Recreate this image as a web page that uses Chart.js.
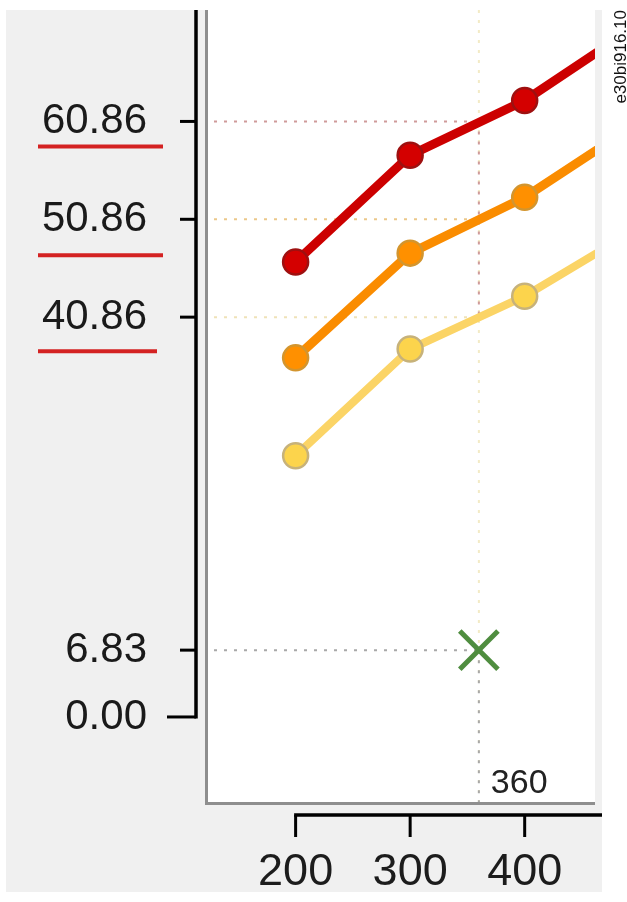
<!DOCTYPE html>
<html>
<head>
<meta charset="utf-8">
<script src="https://cdn.jsdelivr.net/npm/chart.js@4.4.1/dist/chart.umd.min.js"></script>
<style>
  html, body { margin: 0; padding: 0; background: #fff; }
  canvas { display: block; }
</style>
</head>
<body>
<canvas id="chart" width="627" height="902"></canvas>
<script>
// values
const xValues = [200, 300, 400, 500];
const redValues = [46.5, 57.4, 63.0, 70.8];
const orangeValues = [36.7, 47.4, 53.1, 60.8];
const yellowValues = [26.7, 37.6, 43.0, 50.0];
const yTicks = [0, 6.83, 40.86, 50.86, 60.86];
const xTicks = [200, 300, 400];
const markX = 360;
const markY = 6.83;
const guideLevels = [60.86, 50.86, 40.86, 6.83];
const guideColors = ['#cf9a9a', '#ebc88a', '#efe2b8', '#a8a8a8'];
const underlined = [60.86, 50.86, 40.86];
const underlineDrop = [25, 36, 34];
const figureId = 'e30bi916.10';

// the plot panel runs up to the top of the gray frame
const panelTop = 10;

function points(values) {
  return values.map((v, i) => ({ x: xValues[i], y: v }));
}

function series(values, line, fill, edge, width) {
  return {
    data: points(values),
    borderColor: line,
    borderWidth: width,
    pointRadius: 12.5,
    pointBackgroundColor: fill,
    pointBorderColor: edge,
    pointBorderWidth: 2.5,
    tension: 0,
    clip: { left: 40, top: 40, right: 0, bottom: 40 }
  };
}

const decorations = {
  id: 'decorations',
  beforeDraw(chart) {
    const c = chart.ctx, a = chart.chartArea;
    c.save();
    c.fillStyle = '#ffffff';
    c.fillRect(0, 0, chart.width, chart.height);
    c.fillStyle = '#f0f0f0';
    c.fillRect(6, panelTop, 596, 882);
    c.fillStyle = '#ffffff';
    c.fillRect(a.left, panelTop, a.right - a.left, a.bottom - panelTop);
    c.restore();
  },
  beforeDatasetsDraw(chart) {
    const c = chart.ctx, a = chart.chartArea;
    const xs = chart.scales.x, ys = chart.scales.y;
    const gx = xs.getPixelForValue(markX);
    c.save();
    c.lineWidth = 2;
    c.setLineDash([3, 7]);
    // vertical guide, pale over the whole height
    c.strokeStyle = '#f3ebc6';
    c.beginPath(); c.moveTo(gx, panelTop); c.lineTo(gx, a.bottom); c.stroke();
    c.strokeStyle = guideColors[0];
    c.beginPath(); c.moveTo(gx, ys.getPixelForValue(guideLevels[0])); c.lineTo(gx, ys.getPixelForValue(guideLevels[2])); c.stroke();
    c.strokeStyle = guideColors[3];
    c.beginPath(); c.moveTo(gx, ys.getPixelForValue(markY)); c.lineTo(gx, a.bottom); c.stroke();
    // horizontal guides
    guideLevels.forEach((v, i) => {
      const y = ys.getPixelForValue(v);
      c.strokeStyle = guideColors[i];
      c.beginPath(); c.moveTo(a.left + 6, y); c.lineTo(gx, y); c.stroke();
    });
    c.setLineDash([]);
    // plot frame
    c.strokeStyle = '#8e8e8e';
    c.lineWidth = 3;
    c.beginPath();
    c.moveTo(a.left - 1.5, panelTop);
    c.lineTo(a.left - 1.5, a.bottom + 1.5);
    c.lineTo(a.right, a.bottom + 1.5);
    c.stroke();
    c.restore();
  },
  afterDraw(chart) {
    const c = chart.ctx, a = chart.chartArea;
    const xs = chart.scales.x, ys = chart.scales.y;
    c.save();
    // y axis line and ticks
    const ax = 196;
    const y0 = ys.getPixelForValue(0);
    c.strokeStyle = '#000';
    c.lineWidth = 3.5;
    c.beginPath(); c.moveTo(ax, panelTop); c.lineTo(ax, y0 + 1.5); c.stroke();
    c.lineWidth = 3;
    yTicks.forEach(v => {
      const y = ys.getPixelForValue(v);
      c.beginPath(); c.moveTo(v === 0 ? 167 : 180, y); c.lineTo(ax, y); c.stroke();
    });
    // x axis line and ticks
    const bx = xs.getPixelForValue(xTicks[0]);
    const by = 815;
    c.lineWidth = 3.5;
    c.beginPath(); c.moveTo(bx - 1.5, by); c.lineTo(602, by); c.stroke();
    c.lineWidth = 3;
    xTicks.forEach(v => {
      const x = xs.getPixelForValue(v);
      c.beginPath(); c.moveTo(x, by); c.lineTo(x, by + 22); c.stroke();
    });
    // red underlines under the highlighted values
    c.strokeStyle = '#d42222';
    c.lineWidth = 4;
    underlined.forEach((v, i) => {
      const y = ys.getPixelForValue(v) + underlineDrop[i];
      c.beginPath(); c.moveTo(38, y); c.lineTo(i === 2 ? 157 : 163, y); c.stroke();
    });
    // value label on the vertical guide
    c.fillStyle = '#222';
    c.font = '34px "Liberation Sans"';
    c.textAlign = 'left';
    c.textBaseline = 'alphabetic';
    c.fillText(String(markX), xs.getPixelForValue(markX) + 12, a.bottom - 9);
    // figure id, rotated
    c.translate(626, 10);
    c.rotate(-Math.PI / 2);
    c.font = '17px "Liberation Sans"';
    c.fillStyle = '#111';
    c.textAlign = 'right';
    c.fillText(figureId, 0, 0);
    c.restore();
  }
};

const ctx = document.getElementById('chart').getContext('2d');
new Chart(ctx, {
  type: 'line',
  data: {
    datasets: [
      series(yellowValues, '#fbd466', '#fcd44c', '#c7b27a', 8),
      series(orangeValues, '#fa8c00', '#ff9000', '#d3952e', 9),
      series(redValues, '#cc0000', '#d40000', '#9e1010', 9),
      {
        type: 'scatter',
        data: [{ x: markX, y: markY }],
        pointStyle: 'crossRot',
        pointRadius: 27,
        pointBorderColor: '#4f8d3f',
        pointBorderWidth: 5,
        clip: false
      }
    ]
  },
  options: {
    responsive: false,
    animation: false,
    layout: { padding: { left: 6, top: 10, right: 26, bottom: 10 } },
    plugins: { legend: { display: false }, tooltip: { enabled: false } },
    scales: {
      x: {
        type: 'linear',
        min: 123.5,
        max: 461.4,
        afterFit: s => {
          s.height = 90;
          s.paddingLeft = 0; s.paddingRight = 0;
          s.paddingTop = 0; s.paddingBottom = 0;
        },
        afterBuildTicks: s => { s.ticks = xTicks.map(v => ({ value: v })); },
        grid: { display: false, drawTicks: false },
        border: { display: false },
        ticks: {
          font: { family: 'Liberation Sans', size: 45 },
          color: '#1c1c1c',
          padding: 44,
          maxRotation: 0,
          autoSkip: false
        }
      },
      y: {
        type: 'linear',
        min: -8.69,
        max: 70.0,
        afterFit: s => {
          s.width = 202;
          s.paddingLeft = 0; s.paddingRight = 0;
          s.paddingTop = 0; s.paddingBottom = 0;
        },
        afterBuildTicks: s => { s.ticks = yTicks.map(v => ({ value: v })); },
        grid: { display: false, drawTicks: false },
        border: { display: false },
        ticks: {
          font: { family: 'Liberation Sans', size: 42 },
          color: '#1a1a1a',
          padding: 61,
          autoSkip: false,
          callback: v => v.toFixed(2)
        }
      }
    }
  },
  plugins: [decorations]
});
</script>
</body>
</html>
